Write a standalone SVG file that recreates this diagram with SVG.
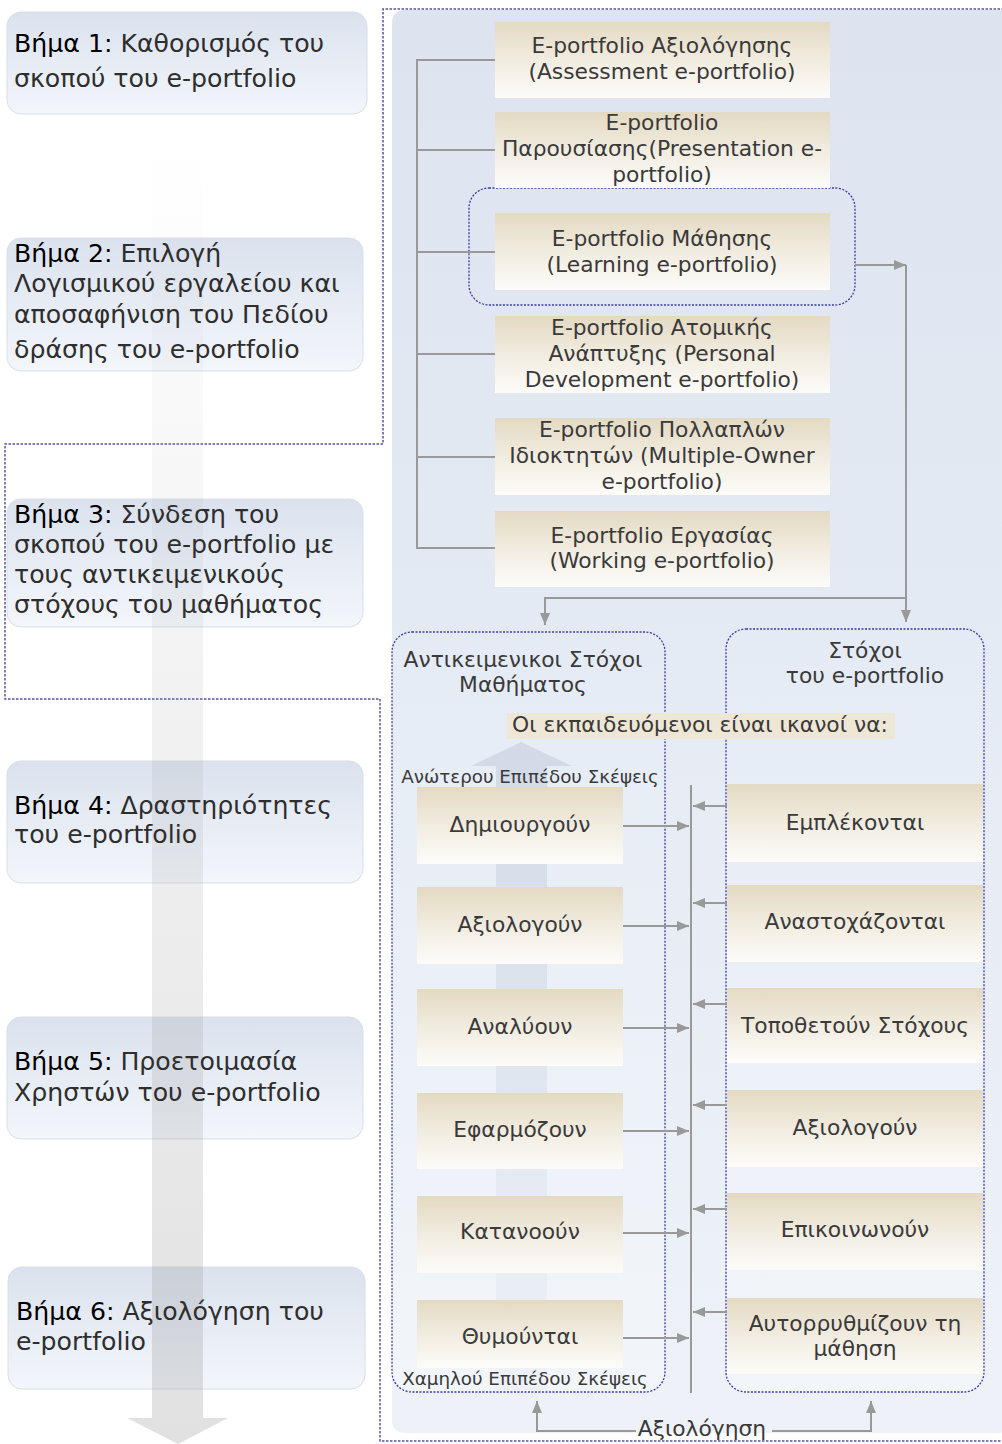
<svg xmlns="http://www.w3.org/2000/svg" width="1002" height="1444" viewBox="0 0 1002 1444">
<defs>
<linearGradient id="gStep" x1="0" y1="0" x2="0" y2="1"><stop offset="0" stop-color="#dbe2ee"/><stop offset="1" stop-color="#f3f6fb"/></linearGradient>
<linearGradient id="gBeige" x1="0" y1="0" x2="0" y2="1"><stop offset="0" stop-color="#e4dac3"/><stop offset="0.5" stop-color="#f1ece0"/><stop offset="1" stop-color="#fdfcf9"/></linearGradient>
<linearGradient id="gPanel" x1="0" y1="0" x2="0" y2="1"><stop offset="0" stop-color="#dde4f0"/><stop offset="1" stop-color="#eef2f8"/></linearGradient>
<linearGradient id="gCont" x1="0" y1="0" x2="0" y2="1"><stop offset="0" stop-color="#e5ebf5"/><stop offset="1" stop-color="#f2f6fa"/></linearGradient>
<linearGradient id="gBig" gradientUnits="userSpaceOnUse" x1="0" y1="140" x2="0" y2="1444"><stop offset="0" stop-color="#9a9a9a" stop-opacity="0"/><stop offset="1" stop-color="#9a9a9a" stop-opacity="0.3"/></linearGradient>
<linearGradient id="gUp" gradientUnits="userSpaceOnUse" x1="0" y1="742" x2="0" y2="1392"><stop offset="0" stop-color="#d2dae7"/><stop offset="1" stop-color="#eef2f8"/></linearGradient>
<marker id="ah" viewBox="0 0 12 10" refX="12" refY="5" markerWidth="12" markerHeight="10" markerUnits="userSpaceOnUse" orient="auto"><path d="M0,0 L12,5 L0,10 z" fill="#999"/></marker>
<style>
.step{fill:url(#gStep);stroke:#d8dee8;stroke-width:1}
.st{font-family:"DejaVu Sans",Verdana,sans-serif;font-size:25.2px;fill:#2e2e2e}
.st .b{fill:#000}
.bx{fill:url(#gBeige)}
.t{font-family:"DejaVu Sans",Verdana,sans-serif;font-size:21.8px;fill:#3a3a3a;text-anchor:middle}
.sm{font-family:"DejaVu Sans",Verdana,sans-serif;font-size:18.3px;fill:#3a3a3a;text-anchor:middle}
.dash{fill:none;stroke:#55559a;stroke-width:1.5;stroke-dasharray:2.5 1.5}
.cont{fill:url(#gCont);stroke:#3a3aa8;stroke-width:1.3;stroke-dasharray:2 1.5}
.ln{fill:none;stroke:#999;stroke-width:2}
.ar{fill:none;stroke:#999;stroke-width:2;marker-end:url(#ah)}
</style>
</defs>
<rect width="1002" height="1444" fill="#fff"/>
<!-- right panel background -->
<rect x="392" y="10" width="620" height="1423" rx="12" fill="url(#gPanel)"/>
<path class="dash" d="M1004,9 H383 V444 H5 V699 H380 V1441 H1004"/>

<!-- step boxes -->
<g id="step1"><rect class="step" x="7" y="12" width="360" height="102" rx="14"/></g>
<g id="step2"><rect class="step" x="7" y="238" width="356" height="133" rx="14"/></g>
<g id="step3"><rect class="step" x="7" y="499" width="356" height="128" rx="14"/></g>
<g id="step4"><rect class="step" x="7" y="761" width="356" height="122" rx="14"/></g>
<g id="step5"><rect class="step" x="7" y="1017" width="356" height="122" rx="14"/></g>
<g id="step6"><rect class="step" x="8" y="1267" width="357" height="122" rx="14"/></g>

<!-- big process arrow -->
<g id="process-arrow"><path d="M152,140 H203 V1418 H228 L178,1444 L127,1418 H152 Z" fill="url(#gBig)"/></g>

<g id="step-labels">
<text class="st" x="14" y="52"><tspan class="b">Βήμα 1:</tspan> Καθορισμός του</text>
<text class="st" x="14" y="87">σκοπού του e-portfolio</text>
<text class="st" x="14" y="262"><tspan class="b">Βήμα 2:</tspan> Επιλογή</text>
<text class="st" x="14" y="292">Λογισμικού εργαλείου και</text>
<text class="st" x="14" y="323">αποσαφήνιση του Πεδίου</text>
<text class="st" x="14" y="358">δράσης του e-portfolio</text>
<text class="st" x="14" y="523"><tspan class="b">Βήμα 3:</tspan> Σύνδεση του</text>
<text class="st" x="14" y="553">σκοπού του e-portfolio με</text>
<text class="st" x="14" y="583">τους αντικειμενικούς</text>
<text class="st" x="14" y="613">στόχους του μαθήματος</text>
<text class="st" x="14" y="814"><tspan class="b">Βήμα 4:</tspan> Δραστηριότητες</text>
<text class="st" x="14" y="843">του e-portfolio</text>
<text class="st" x="14" y="1070"><tspan class="b">Βήμα 5:</tspan> Προετοιμασία</text>
<text class="st" x="14" y="1101">Χρηστών του e-portfolio</text>
<text class="st" x="16" y="1320"><tspan class="b">Βήμα 6:</tspan> Αξιολόγηση του</text>
<text class="st" x="16" y="1350">e-portfolio</text>
</g>

<!-- containers -->
<g id="learning-highlight"><rect x="469" y="188" width="386" height="117" rx="20" fill="none" stroke="#3a3aa8" stroke-width="1.3" stroke-dasharray="2 1.5"/></g>
<g id="objectives-container"><rect class="cont" x="392" y="632" width="273" height="760" rx="20"/>
<path d="M521,742 L572,766 H547 V1390 H496 V766 H471 Z" fill="url(#gUp)"/>
<text class="t" x="523" y="667" font-size="20">Αντικειμενικοι Στόχοι</text>
<text class="t" x="523" y="692" font-size="20">Μαθήματος</text>
<text class="sm" x="530" y="783">Ανώτερου Επιπέδου Σκέψεις</text>
<text class="sm" x="525" y="1385">Χαμηλού Επιπέδου Σκέψεις</text>
</g>
<g id="goals-container"><rect class="cont" x="726" y="629" width="258" height="763" rx="20"/>
<text class="t" x="865" y="658" font-size="20">Στόχοι</text>
<text class="t" x="865" y="683" font-size="20">του e-portfolio</text>
</g>
<g id="learners-able"><rect x="507" y="713" width="388" height="26" fill="#efe7d6"/>
<text class="t" x="700" y="732" font-size="20.4">Οι εκπαιδευόμενοι είναι ικανοί να:</text></g>

<!-- connectors -->
<g id="connectors">
<path class="ln" d="M495,60 H417 V548 H495 M417,150 H495 M417,252 H495 M417,354 H495 M417,457 H495"/>
<path class="ar" d="M855,265 H906"/>
<path class="ar" d="M906,265 V622"/>
<path class="ar" d="M906,598 H545 V625"/>
<path class="ln" d="M691,785 V1393"/>
<path class="ar" d="M623,826 H689"/>
<path class="ar" d="M623,926 H689"/>
<path class="ar" d="M623,1028 H689"/>
<path class="ar" d="M623,1131 H689"/>
<path class="ar" d="M623,1233 H689"/>
<path class="ar" d="M623,1338 H689"/>
<path class="ar" d="M727,806 H693"/>
<path class="ar" d="M727,903 H693"/>
<path class="ar" d="M727,1004 H693"/>
<path class="ar" d="M727,1105 H693"/>
<path class="ar" d="M727,1209 H693"/>
<path class="ar" d="M727,1312 H693"/>
<path class="ar" d="M636,1431 H537 V1401"/>
<path class="ar" d="M772,1431 H871 V1401"/>
</g>
<g id="evaluation"><text class="t" x="702" y="1436">Αξιολόγηση</text></g>

<!-- portfolio types -->
<g id="type-assessment"><rect class="bx" x="495" y="22" width="335" height="76"/>
<text class="t" x="662" y="53">E-portfolio Αξιολόγησης</text><text class="t" x="662" y="79">(Assessment e-portfolio)</text></g>
<g id="type-presentation"><rect class="bx" x="495" y="112" width="335" height="76"/>
<text class="t" x="662" y="130">E-portfolio</text><text class="t" x="662" y="156">Παρουσίασης(Presentation e-</text><text class="t" x="662" y="182">portfolio)</text></g>
<g id="type-learning"><rect class="bx" x="495" y="213" width="335" height="77"/>
<text class="t" x="662" y="246">E-portfolio Μάθησης</text><text class="t" x="662" y="272">(Learning e-portfolio)</text></g>
<g id="type-personal"><rect class="bx" x="495" y="316" width="335" height="77"/>
<text class="t" x="662" y="335">E-portfolio Ατομικής</text><text class="t" x="662" y="361">Ανάπτυξης (Personal</text><text class="t" x="662" y="387">Development e-portfolio)</text></g>
<g id="type-multiple"><rect class="bx" x="495" y="418" width="335" height="77"/>
<text class="t" x="662" y="437">E-portfolio Πολλαπλών</text><text class="t" x="662" y="463">Ιδιοκτητών (Multiple-Owner</text><text class="t" x="662" y="489">e-portfolio)</text></g>
<g id="type-working"><rect class="bx" x="495" y="511" width="335" height="76"/>
<text class="t" x="662" y="543">E-portfolio Εργασίας</text><text class="t" x="662" y="568">(Working e-portfolio)</text></g>

<!-- levels -->
<g id="lvl-create"><rect class="bx" x="417" y="787" width="206" height="77"/><text class="t" x="520" y="832">Δημιουργούν</text></g>
<g id="lvl-evaluate"><rect class="bx" x="417" y="887" width="206" height="77"/><text class="t" x="520" y="932">Αξιολογούν</text></g>
<g id="lvl-analyze"><rect class="bx" x="417" y="989" width="206" height="77"/><text class="t" x="520" y="1034">Αναλύουν</text></g>
<g id="lvl-apply"><rect class="bx" x="417" y="1093" width="206" height="76"/><text class="t" x="520" y="1137">Εφαρμόζουν</text></g>
<g id="lvl-understand"><rect class="bx" x="417" y="1196" width="206" height="77"/><text class="t" x="520" y="1239">Κατανοούν</text></g>
<g id="lvl-remember"><rect class="bx" x="417" y="1300" width="206" height="68"/><text class="t" x="520" y="1344">Θυμούνται</text></g>

<!-- goals -->
<g id="goal-engage"><rect class="bx" x="727" y="784" width="256" height="78"/><text class="t" x="855" y="830">Εμπλέκονται</text></g>
<g id="goal-reflect"><rect class="bx" x="727" y="885" width="256" height="77"/><text class="t" x="855" y="929">Αναστοχάζονται</text></g>
<g id="goal-set"><rect class="bx" x="727" y="988" width="256" height="75"/><text class="t" x="855" y="1033">Τοποθετούν Στόχους</text></g>
<g id="goal-assess"><rect class="bx" x="727" y="1090" width="256" height="77"/><text class="t" x="855" y="1135">Αξιολογούν</text></g>
<g id="goal-communicate"><rect class="bx" x="727" y="1193" width="256" height="77"/><text class="t" x="855" y="1237">Επικοινωνούν</text></g>
<g id="goal-selfregulate"><rect class="bx" x="727" y="1298" width="256" height="76"/><text class="t" x="855" y="1331">Αυτορρυθμίζουν τη</text><text class="t" x="855" y="1356">μάθηση</text></g>
</svg>
